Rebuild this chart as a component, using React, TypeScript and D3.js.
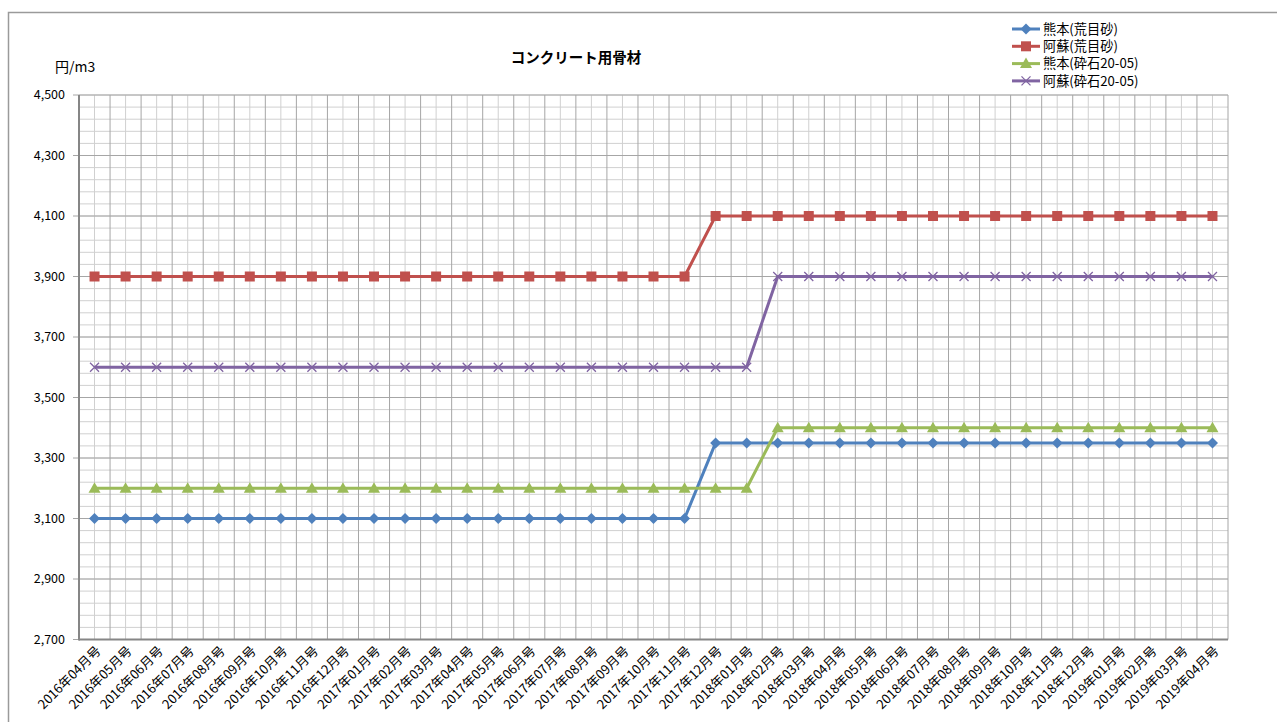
import React from "react";
import * as d3 from "d3";

const categories: string[] = [
  "2016年04月号","2016年05月号","2016年06月号","2016年07月号","2016年08月号","2016年09月号",
  "2016年10月号","2016年11月号","2016年12月号","2017年01月号","2017年02月号","2017年03月号",
  "2017年04月号","2017年05月号","2017年06月号","2017年07月号","2017年08月号","2017年09月号",
  "2017年10月号","2017年11月号","2017年12月号","2018年01月号","2018年02月号","2018年03月号",
  "2018年04月号","2018年05月号","2018年06月号","2018年07月号","2018年08月号","2018年09月号",
  "2018年10月号","2018年11月号","2018年12月号","2019年01月号","2019年02月号","2019年03月号",
  "2019年04月号",
];

const kumamotoSand: number[] = [
  3100,3100,3100,3100,3100,3100,3100,3100,3100,3100,3100,3100,3100,3100,3100,3100,3100,3100,3100,3100,
  3350,3350,3350,3350,3350,3350,3350,3350,3350,3350,3350,3350,3350,3350,3350,3350,3350,
];
const asoSand: number[] = [
  3900,3900,3900,3900,3900,3900,3900,3900,3900,3900,3900,3900,3900,3900,3900,3900,3900,3900,3900,3900,
  4100,4100,4100,4100,4100,4100,4100,4100,4100,4100,4100,4100,4100,4100,4100,4100,4100,
];
const kumamotoStone: number[] = [
  3200,3200,3200,3200,3200,3200,3200,3200,3200,3200,3200,3200,3200,3200,3200,3200,3200,3200,3200,3200,3200,3200,
  3400,3400,3400,3400,3400,3400,3400,3400,3400,3400,3400,3400,3400,3400,3400,
];
const asoStone: number[] = [
  3600,3600,3600,3600,3600,3600,3600,3600,3600,3600,3600,3600,3600,3600,3600,3600,3600,3600,3600,3600,3600,3600,
  3900,3900,3900,3900,3900,3900,3900,3900,3900,3900,3900,3900,3900,3900,3900,
];

const yTicks: number[] = [2700, 2900, 3100, 3300, 3500, 3700, 3900, 4100, 4300, 4500];

const seriesNames: string[] = ["熊本(荒目砂)", "阿蘇(荒目砂)", "熊本(砕石20-05)", "阿蘇(砕石20-05)"];
const seriesValues: number[][] = [kumamotoSand, asoSand, kumamotoStone, asoStone];
const seriesColors: string[] = ["#4F81BD", "#C0504D", "#9BBB59", "#8064A2"];
const seriesMarkers: string[] = ["diamond", "square", "triangle", "x"];

const FONT = "'Noto Sans CJK JP', 'Noto Sans', sans-serif";

function Marker({ type, x, y, color }: { type: string; x: number; y: number; color: string }) {
  if (type === "diamond") {
    const s = 5.5;
    return <path d={`M${x},${y - s}L${x + s},${y}L${x},${y + s}L${x - s},${y}Z`} fill={color} />;
  }
  if (type === "square") {
    const s = 5;
    return <rect x={x - s} y={y - s} width={2 * s} height={2 * s} fill={color} />;
  }
  if (type === "triangle") {
    const s = 6;
    return <path d={`M${x},${y - s}L${x + s},${y + s * 0.75}L${x - s},${y + s * 0.75}Z`} fill={color} />;
  }
  const s = 4.5;
  return (
    <path d={`M${x - s},${y - s}L${x + s},${y + s}M${x - s},${y + s}L${x + s},${y - s}`} stroke={color} strokeWidth={1.3} fill="none" />
  );
}

export default function App() {
  const W = 1277, H = 722;
  const left = 79, right = 1228, top = 95, bottom = 639.5;
  const x = d3.scaleBand<string>().domain(categories).range([left, right]).padding(0);
  const y = d3.scaleLinear().domain([2700, 4500]).range([bottom, top]);
  const bw = x.bandwidth();
  const cx = (c: string) => (x(c) as number) + bw / 2;

  const minorY = d3.range(2700, 4501, 40);
  const line = d3.line<number>().x((_, i) => cx(categories[i])).y((v) => y(v));

  return (
    <svg width={W} height={H} style={{ position: "absolute", left: 0, top: 0 }} fontFamily={FONT}>
      <rect x={0} y={0} width={W} height={H} fill="#fff" />
      <path d={`M8.5,${H}V12.5H${W}`} stroke="#9a9a9a" strokeWidth={1.5} fill="none" />

      {minorY.map((v) => (
        <line key={"mh" + v} x1={left} x2={right} y1={y(v)} y2={y(v)} stroke="#d0d0d0" strokeWidth={1} />
      ))}
      {categories.map((c) => (
        <line key={"mv" + c} x1={cx(c)} x2={cx(c)} y1={top} y2={bottom} stroke="#d0d0d0" strokeWidth={1} />
      ))}
      {yTicks.map((v) => (
        <line key={"Mh" + v} x1={left - 6} x2={right} y1={y(v)} y2={y(v)} stroke="#a6a6a6" strokeWidth={1} />
      ))}
      {categories.map((c) => (
        <line key={"Mv" + c} x1={(x(c) as number) + bw} x2={(x(c) as number) + bw} y1={top} y2={bottom} stroke="#a6a6a6" strokeWidth={1} />
      ))}

      <line x1={left} x2={left} y1={top} y2={bottom + 1} stroke="#868686" strokeWidth={2} />
      <line x1={left} x2={right} y1={bottom} y2={bottom} stroke="#868686" strokeWidth={2} />

      {yTicks.map((v) => (
        <text key={"yt" + v} x={65} y={y(v)} dy="0.35em" textAnchor="end" fontSize={12.5} fill="#000">
          {d3.format(",")(v)}
        </text>
      ))}

      {categories.map((c) => (
        <text
          key={"xt" + c}
          transform={`translate(${cx(c) + 4},${bottom + 9}) rotate(-45)`}
          textAnchor="end"
          dy="0.35em"
          fontSize={13}
          fill="#000"
        >
          {c}
        </text>
      ))}

      {seriesValues.map((vals, si) => (
        <g key={"s" + si}>
          <path d={line(vals) as string} fill="none" stroke={seriesColors[si]} strokeWidth={3} strokeLinejoin="round" />
          {vals.map((v, i) => (
            <Marker key={i} type={seriesMarkers[si]} x={cx(categories[i])} y={y(v)} color={seriesColors[si]} />
          ))}
        </g>
      ))}

      <text x={576} y={58} dy="0.35em" textAnchor="middle" fontSize={14.5} fontWeight="bold" fill="#000">
        コンクリート用骨材
      </text>
      <text x={55} y={67} dy="0.35em" fontSize={14} fill="#000">円/m3</text>

      {seriesNames.map((n, i) => {
        const ly = 29 + i * 17.3;
        return (
          <g key={"lg" + i}>
            <line x1={1012} x2={1040} y1={ly} y2={ly} stroke={seriesColors[i]} strokeWidth={3} />
            <Marker type={seriesMarkers[i]} x={1026} y={ly} color={seriesColors[i]} />
            <text x={1043} y={ly} dy="0.35em" fontSize={13.2} fill="#000">{n}</text>
          </g>
        );
      })}
    </svg>
  );
}
